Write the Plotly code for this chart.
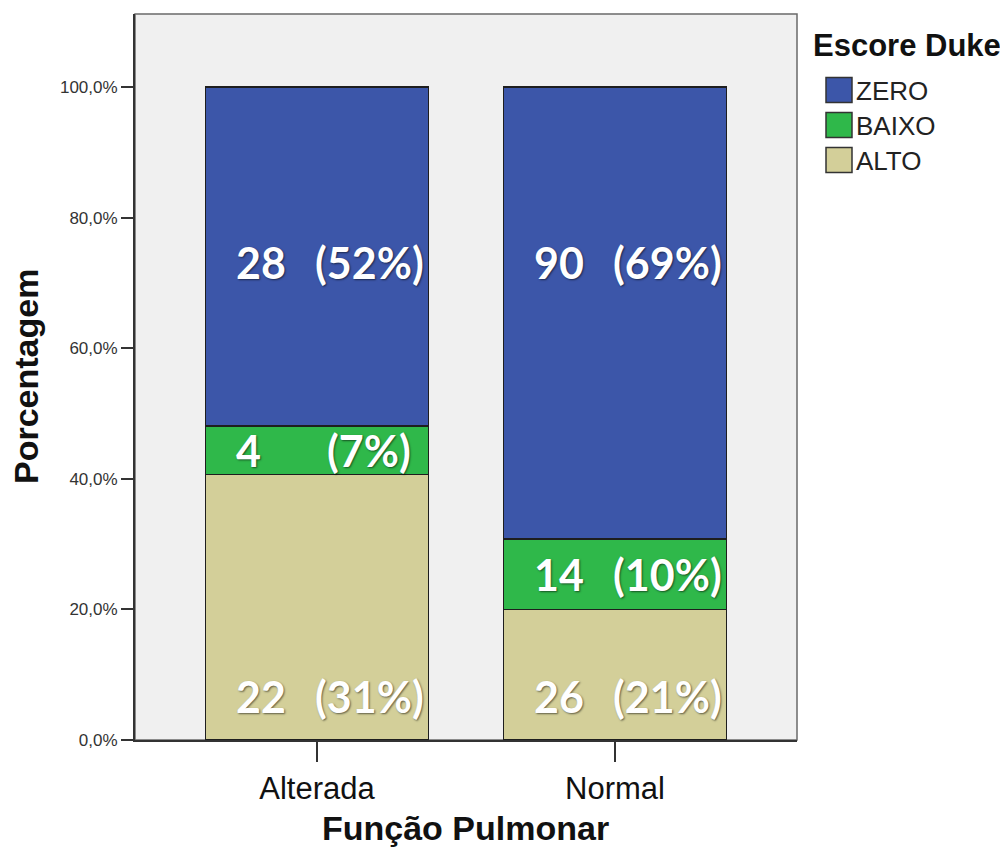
import plotly.graph_objects as go

# ---- data ----
categories = ["Alterada", "Normal"]
series_names = ["ALTO", "BAIXO", "ZERO"]          # bottom to top
alto_pct = [40.7, 20.0]
baixo_pct = [7.4, 10.8]
zero_pct = [51.9, 69.2]
alto_n = [22, 26]
baixo_n = [4, 14]
zero_n = [28, 90]
alto_lbl = ["(31%)", "(21%)"]
baixo_lbl = ["(7%)", "(10%)"]
zero_lbl = ["(52%)", "(69%)"]
y_tickvals = [0, 20, 40, 60, 80, 100]
y_ticktext = ["0,0%", "20,0%", "40,0%", "60,0%", "80,0%", "100,0%"]
legend_order = ["ZERO", "BAIXO", "ALTO"]

colors = {"ZERO": "#3c56a9", "BAIXO": "#2fb84a", "ALTO": "#d3cf99"}

OFF = 8  # page body margin
W, H = 1008 - OFF, 847 - OFF
L, R, T, B = 135 - OFF, 211, 14 - OFF, 107
PW, PH = W - L - R, H - T - B


def px(xs):
    return (xs - OFF - L) / PW


def py(ys):
    return (H - B - (ys - OFF)) / PH


fig = go.Figure()
series = [("ALTO", alto_pct), ("BAIXO", baixo_pct), ("ZERO", zero_pct)]
for name, vals in series:
    fig.add_trace(go.Bar(
        x=categories, y=vals, name=name, width=0.748, showlegend=False,
        marker=dict(color=colors[name], line=dict(color="#1e1e1e", width=1.5)),
        hoverinfo="skip",
    ))

label_font = dict(family="Lato", size=43, color="white", weight="bold",
                  shadow="1px 1px 2px rgba(0,0,0,0.55)")
ann = []
for i, cat in enumerate(categories):
    y_alto = 6.6
    y_baixo = alto_pct[i] + baixo_pct[i] / 2
    y_zero = 73.2
    for yv, n, lbl in [(y_alto, alto_n[i], alto_lbl[i]),
                       (y_baixo, baixo_n[i], baixo_lbl[i]),
                       (y_zero, zero_n[i], zero_lbl[i])]:
        ann.append(dict(x=i - 0.28, y=yv, xref="x", yref="y", text=str(n),
                        showarrow=False, xanchor="left", yanchor="middle",
                        font=label_font))
        ann.append(dict(x=i + 0.175, y=yv, xref="x", yref="y", text=lbl,
                        showarrow=False, xanchor="center", yanchor="middle",
                        font=label_font))

# axis titles
ann.append(dict(x=px(465), y=py(828), xref="paper", yref="paper",
                text="<b>Função Pulmonar</b>", showarrow=False,
                xanchor="center", yanchor="middle",
                font=dict(size=34, color="#111")))
ann.append(dict(x=px(26), y=py(377), xref="paper", yref="paper",
                text="<b>Porcentagem</b>", showarrow=False, textangle=-90,
                xanchor="center", yanchor="middle",
                font=dict(size=34, color="#111")))

# legend (drawn)
shapes = [dict(type="rect", xref="paper", yref="paper", x0=0, x1=1, y0=0, y1=1,
               line=dict(color="#6a6a6a", width=1.5), layer="below")]
ann.append(dict(x=px(811), y=py(45), xref="paper", yref="paper",
                text="<b>Escore Duke</b>", showarrow=False,
                xanchor="left", yanchor="middle",
                font=dict(size=31, color="#111")))
for k, name in enumerate(legend_order):
    cy = 90 + 35 * k
    shapes.append(dict(type="rect", xref="paper", yref="paper",
                       x0=px(826), x1=px(852), y0=py(cy + 12.5), y1=py(cy - 12.5),
                       fillcolor=colors[name], line=dict(color="#333", width=1.5)))
    ann.append(dict(x=px(854), y=py(cy + 1), xref="paper", yref="paper",
                    text=name, showarrow=False, xanchor="left", yanchor="middle",
                    font=dict(size=26, color="#222")))

fig.update_layout(
    width=W, height=H,
    margin=dict(l=L, r=R, t=T, b=B, autoexpand=False),
    barmode="stack",
    paper_bgcolor="white",
    plot_bgcolor="#f0f0f0",
    font=dict(family="Arial, Liberation Sans", color="#222"),
    annotations=ann,
    shapes=shapes,
    showlegend=False,
)
fig.update_xaxes(
    range=[-0.611, 1.611], showline=True, linecolor="#333", linewidth=2,
    ticks="outside", ticklen=20, tickwidth=2, tickcolor="#333",
    tickfont=dict(size=31, color="#111"), showgrid=False, automargin=False,
)
fig.update_yaxes(
    range=[0, 111.2], showline=True, linecolor="#333", linewidth=2,
    tickvals=y_tickvals, ticktext=y_ticktext,
    ticks="outside", ticklen=12, tickwidth=2, tickcolor="#333",
    tickfont=dict(size=17, color="#333"), showgrid=False, zeroline=False,
    automargin=False,
)

fig.write_html("out.html")
